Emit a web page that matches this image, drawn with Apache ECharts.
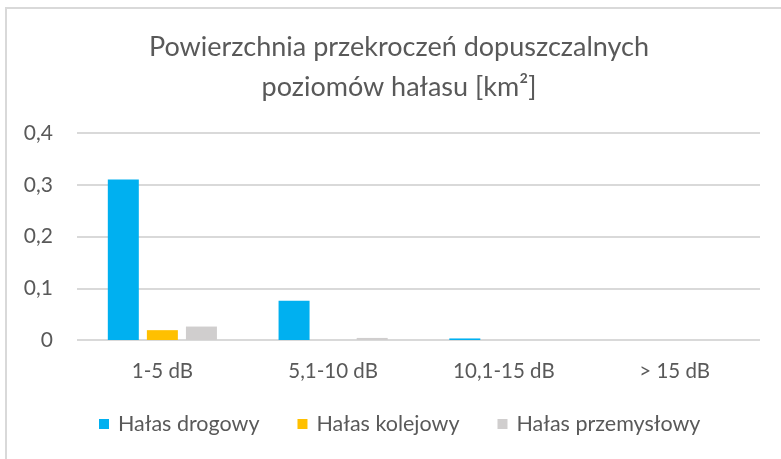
<!DOCTYPE html>
<html>
<head>
<meta charset="utf-8">
<script src="https://cdn.jsdelivr.net/npm/echarts@6/dist/echarts.min.js"></script>
<style>
  html, body { margin: 0; padding: 0; background: #fff; }
  #chart { width: 781px; height: 459px; }
</style>
</head>
<body>
<div id="chart"></div>
<script>
// Noise exceedance area per level band [km²]
const categories = ['1-5 dB', '5,1-10 dB', '10,1-15 dB', '> 15 dB'];
const roadNoise = [0.31, 0.076, 0.003, 0];
const railNoise = [0.019, 0, 0, 0];
const industrialNoise = [0.026, 0.004, 0, 0];
const yTicks = [0, 0.1, 0.2, 0.3, 0.4];

const FONT = 'Lato';
const TEXT = '#595959';

const chart = echarts.init(document.getElementById('chart'), null, { renderer: 'canvas' });

chart.setOption({
  animation: false,
  backgroundColor: '#fff',
  textStyle: { fontFamily: FONT },
  graphic: [{
    type: 'polyline',
    shape: { points: [[6, 459], [6, 8], [781, 8]] },
    style: { stroke: '#d9d9d9', lineWidth: 2, fill: null },
    silent: true
  }],
  title: {
    text: 'Powierzchnia przekroczeń dopuszczalnych\npoziomów hałasu [km²]',
    left: 394,
    textAlign: 'center',
    top: 22,
    textStyle: {
      fontFamily: FONT, fontSize: 27, fontWeight: 'normal', color: TEXT, lineHeight: 40
    }
  },
  legend: {
    bottom: 19,
    left: 94,
    itemWidth: 10,
    itemHeight: 10,
    itemGap: 38,
    icon: 'rect',
    textStyle: { fontFamily: FONT, fontSize: 21.5, color: TEXT, padding: [0, 0, 0, 4] },
    data: ['Hałas drogowy', 'Hałas kolejowy', 'Hałas przemysłowy']
  },
  grid: { left: 77, right: 21, top: 133, bottom: 119, containLabel: false },
  xAxis: {
    type: 'category',
    data: categories,
    axisLine: { show: false },
    axisTick: { show: false },
    axisLabel: { fontFamily: FONT, fontSize: 20.5, color: TEXT, margin: 21 }
  },
  yAxis: {
    type: 'value',
    min: yTicks[0],
    max: yTicks[yTicks.length - 1],
    interval: 0.1,
    axisLine: { show: false },
    axisTick: { show: false },
    splitLine: { lineStyle: { color: '#d9d9d9', width: 2 } },
    axisLabel: {
      fontFamily: FONT, fontSize: 21, color: TEXT, margin: 24,
      formatter: v => String(Math.round(v * 10) / 10).replace('.', ',')
    }
  },
  series: [
    { name: 'Hałas drogowy', type: 'bar', data: roadNoise, barWidth: 31, barGap: '26%', itemStyle: { color: '#00B0F0' } },
    { name: 'Hałas kolejowy', type: 'bar', data: railNoise, barWidth: 31, barGap: '26%', itemStyle: { color: '#FFC000' } },
    { name: 'Hałas przemysłowy', type: 'bar', data: industrialNoise, barWidth: 31, barGap: '26%', itemStyle: { color: '#D0CECE' } }
  ]
});
</script>
</body>
</html>
